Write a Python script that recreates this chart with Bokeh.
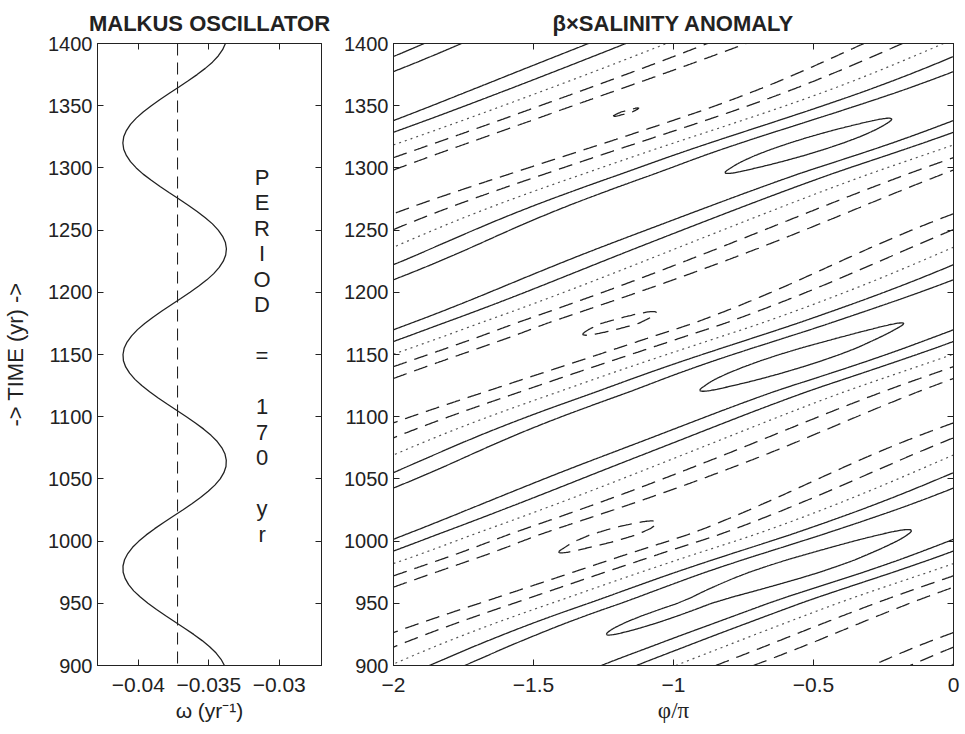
import numpy as np
from contourpy import contour_generator
from bokeh.plotting import figure
from bokeh.models import Range1d, FixedTicker, LinearAxis, Span, Label, Title, CustomJSTickFormatter
from bokeh.layouts import row
from bokeh.embed import file_html
from bokeh.resources import INLINE

# ---------------- data ----------------
years = list(range(900, 1401, 5))

# Malkus oscillator angular velocity omega (yr^-1), one value every 5 years
omega = [
    -0.03389, -0.03413, -0.03448, -0.03494, -0.03547, -0.03607, -0.03672, -0.03739, -0.03806, -0.03871,
    -0.03932, -0.03986, -0.04033, -0.04069, -0.04094, -0.04108, -0.04109, -0.04098, -0.04075, -0.04041,
    -0.03996, -0.03944, -0.03884, -0.03820, -0.03753, -0.03685, -0.03620, -0.03559, -0.03504, -0.03457,
    -0.03419, -0.03393, -0.03378, -0.03376, -0.03385, -0.03407, -0.03440, -0.03484, -0.03536, -0.03595,
    -0.03659, -0.03726, -0.03793, -0.03859, -0.03920, -0.03976, -0.04024, -0.04062, -0.04090, -0.04106,
    -0.04109, -0.04101, -0.04080, -0.04048, -0.04006, -0.03955, -0.03896, -0.03833, -0.03766, -0.03699,
    -0.03633, -0.03571, -0.03514, -0.03465, -0.03426, -0.03397, -0.03380, -0.03375, -0.03382, -0.03402,
    -0.03433, -0.03474, -0.03525, -0.03583, -0.03646, -0.03712, -0.03780, -0.03846, -0.03908, -0.03966,
    -0.04015, -0.04056, -0.04085, -0.04104, -0.04110, -0.04104, -0.04085, -0.04056, -0.04015, -0.03966,
    -0.03908, -0.03846, -0.03780, -0.03712, -0.03646, -0.03583, -0.03525, -0.03474, -0.03433, -0.03402,
    -0.03382,
]

# largest positive / negative salinity anomaly along the travelling band (units of the contour step)
pos_peak = [
    0.960, 0.965, 0.975, 0.985, 0.993, 1.001, 1.010, 1.017, 1.020, 1.020,
    1.018, 1.025, 1.040, 1.055, 1.070, 1.080, 1.080, 1.075, 1.060, 1.045,
    1.030, 1.013, 0.998, 0.980, 0.965, 0.950, 0.940, 0.932, 0.927, 0.925,
    0.925, 0.928, 0.934, 0.942, 0.952, 0.962, 0.972, 0.980, 0.986, 0.990,
    0.993, 0.994, 0.995, 0.996, 0.999, 1.012, 1.030, 1.045, 1.055, 1.060,
    1.058, 1.050, 1.035, 1.022, 1.010, 1.001, 0.990, 0.978, 0.965, 0.952,
    0.940, 0.930, 0.922, 0.917, 0.915, 0.915, 0.918, 0.924, 0.932, 0.942,
    0.952, 0.962, 0.970, 0.977, 0.983, 0.987, 0.990, 0.993, 0.996, 0.999,
    1.010, 1.025, 1.038, 1.045, 1.046, 1.040, 1.028, 1.013, 1.000, 0.985,
    0.970, 0.955, 0.942, 0.932, 0.924, 0.918, 0.915, 0.914, 0.915, 0.917,
    0.920,
]
neg_peak = [
    0.900, 0.892, 0.887, 0.885, 0.887, 0.893, 0.902, 0.913, 0.925, 0.937,
    0.949, 0.960, 0.970, 0.979, 0.986, 0.991, 0.995, 0.997, 0.999, 1.010,
    1.026, 1.034, 1.025, 1.005, 0.985, 0.965, 0.945, 0.928, 0.912, 0.898,
    0.886, 0.876, 0.868, 0.862, 0.858, 0.857, 0.858, 0.862, 0.868, 0.876,
    0.886, 0.898, 0.910, 0.923, 0.936, 0.948, 0.960, 0.971, 0.980, 0.987,
    0.992, 0.995, 0.997, 0.999, 1.012, 1.022, 1.012, 0.999, 0.985, 0.968,
    0.952, 0.937, 0.922, 0.908, 0.896, 0.885, 0.876, 0.869, 0.864, 0.861,
    0.860, 0.861, 0.864, 0.869, 0.876, 0.885, 0.896, 0.908, 0.920, 0.933,
    0.945, 0.957, 0.968, 0.977, 0.985, 0.991, 0.995, 0.998, 0.9995, 1.002,
    0.999, 0.993, 0.985, 0.975, 0.963, 0.950, 0.937, 0.924, 0.912, 0.900,
    0.890,
]

omega_dashed = [-0.03722]           # dashed reference line, left panel
band_phase_1320 = -0.49             # phi/pi of the positive band centre in year 1320
pos_levels = [0.4, 0.7, 1.0]
zero_levels = [0.0]
neg_levels = [-1.0, -0.7, -0.4]

left_xticks = [-0.04, -0.035, -0.03]
right_xticks = [-2, -1.5, -1, -0.5, 0]
yticks = list(range(900, 1401, 50))
period_chars = ["P", "E", "R", "I", "O", "D", "\u00a0", "=", "\u00a0", "1", "7", "0", "\u00a0", "y", "r"]

FONT = "Liberation Sans"
INK = "#222222"

# ---------------- salinity field on the (phi, t) plane ----------------
t = np.array(years, dtype=float)
w = np.array(omega)
theta = np.concatenate([[0.0], np.cumsum(-(w[1:] + w[:-1]) / 2.0 * np.diff(t))])
theta += band_phase_1320 * np.pi - theta[years.index(1320)]
t_f = np.arange(900.0, 1400.5, 1.0)
theta_f = np.interp(t_f, t, theta)
P_f = np.interp(t_f, t, pos_peak)
N_f = np.interp(t_f, t, neg_peak)
phi = np.linspace(-2.0, 0.0, 481)
amp = (P_f + N_f) / 2.0
off = (P_f - N_f) / 2.0
Z = amp[:, None] * np.cos(np.pi * phi[None, :] - theta_f[:, None]) + off[:, None]
gen = contour_generator(x=phi, y=t_f, z=Z)


def lines_for(levels):
    xs, ys = [], []
    for lev in levels:
        for seg in gen.lines(lev):
            xs.append(seg[:, 0].tolist())
            ys.append(seg[:, 1].tolist())
    return xs, ys


minus_fmt = CustomJSTickFormatter(code="return String(tick).replace('-', '\u2212');")


def style_axis(ax, ticks, labels=True, standoff=5, size="20px"):
    ax.ticker = FixedTicker(ticks=ticks)
    ax.major_tick_in = 6
    ax.major_tick_out = 0
    ax.minor_tick_in = 0
    ax.minor_tick_out = 0
    ax.axis_line_color = INK
    ax.major_tick_line_color = INK
    ax.major_label_text_font = FONT
    ax.major_label_text_color = INK
    ax.axis_label_text_font = FONT
    ax.axis_label_text_font_style = "normal"
    ax.axis_label_text_color = INK
    ax.axis_label_text_font_size = "21px"
    if labels:
        ax.major_label_text_font_size = size
        ax.major_label_standoff = standoff
    else:
        ax.major_label_text_font_size = "1px"
        ax.major_label_text_alpha = 0
        ax.major_label_standoff = 0


def make_fig(xr, fw, bl, br, title):
    p = figure(frame_width=fw, frame_height=622, x_range=xr, y_range=Range1d(900, 1400),
               output_backend="svg", toolbar_location=None,
               min_border_left=bl, min_border_right=br, min_border_top=43, min_border_bottom=67)
    p.title = Title(text=title, align="center", text_font=FONT, text_font_size="22px",
                    text_font_style="bold", text_color=INK, standoff=15)
    p.grid.visible = False
    p.outline_line_color = INK
    p.outline_line_width = 1
    p.background_fill_color = "white"
    p.border_fill_color = "white"
    return p


# ---------------- left panel ----------------
p1 = make_fig(Range1d(-0.0429, -0.0270), 224, 97, 19, "MALKUS OSCILLATOR")
style_axis(p1.xaxis[0], left_xticks, True, 12, "21px")
p1.xaxis[0].formatter = minus_fmt
p1.xaxis[0].axis_label = "\u03c9 (yr\u207b\u00b9)"
p1.xaxis[0].axis_label_standoff = 4
style_axis(p1.yaxis[0], yticks, True, 5)
p1.yaxis[0].axis_label = "-> TIME (yr) ->"
p1.yaxis[0].axis_label_text_font_size = "22px"
p1.yaxis[0].axis_label_standoff = 17
top1 = LinearAxis()
style_axis(top1, left_xticks, False)
p1.add_layout(top1, "above")
right1 = LinearAxis()
style_axis(right1, yticks, False)
p1.add_layout(right1, "right")

p1.add_layout(Span(location=omega_dashed[0], dimension="height", line_color=INK,
                   line_width=1.1, line_dash="12 7"))
p1.line(omega, years, line_color=INK, line_width=1.3)

p1.add_layout(Label(x=-0.03122, y=1302.5, text="\n".join(period_chars), text_align="center",
                    text_baseline="top", text_line_height=1.02, text_font=FONT,
                    text_font_size="22px", text_color=INK))

# ---------------- right panel ----------------
p2 = make_fig(Range1d(-2, 0), 560, 53, 12, "\u03b2\u00d7SALINITY ANOMALY")
style_axis(p2.xaxis[0], right_xticks, True, 12, "21px")
p2.xaxis[0].formatter = minus_fmt
p2.xaxis[0].axis_label = "\u03c6/\u03c0"
p2.xaxis[0].axis_label_text_font = "Liberation Serif"
p2.xaxis[0].axis_label_text_font_size = "23px"
p2.xaxis[0].axis_label_standoff = 3
style_axis(p2.yaxis[0], yticks, True, 5)
top2 = LinearAxis()
style_axis(top2, right_xticks, False)
p2.add_layout(top2, "above")
right2 = LinearAxis()
style_axis(right2, yticks, False)
p2.add_layout(right2, "right")

xs, ys = lines_for(pos_levels)
p2.multi_line(xs, ys, line_color=INK, line_width=1.3)
xs, ys = lines_for(zero_levels)
p2.multi_line(xs, ys, line_color="#555555", line_width=1.2, line_dash="2 4")
xs, ys = lines_for(neg_levels)
p2.multi_line(xs, ys, line_color=INK, line_width=1.3, line_dash="14 8")

layout = row(p1, p2)
open("out.html", "w").write(file_html(layout, INLINE))
